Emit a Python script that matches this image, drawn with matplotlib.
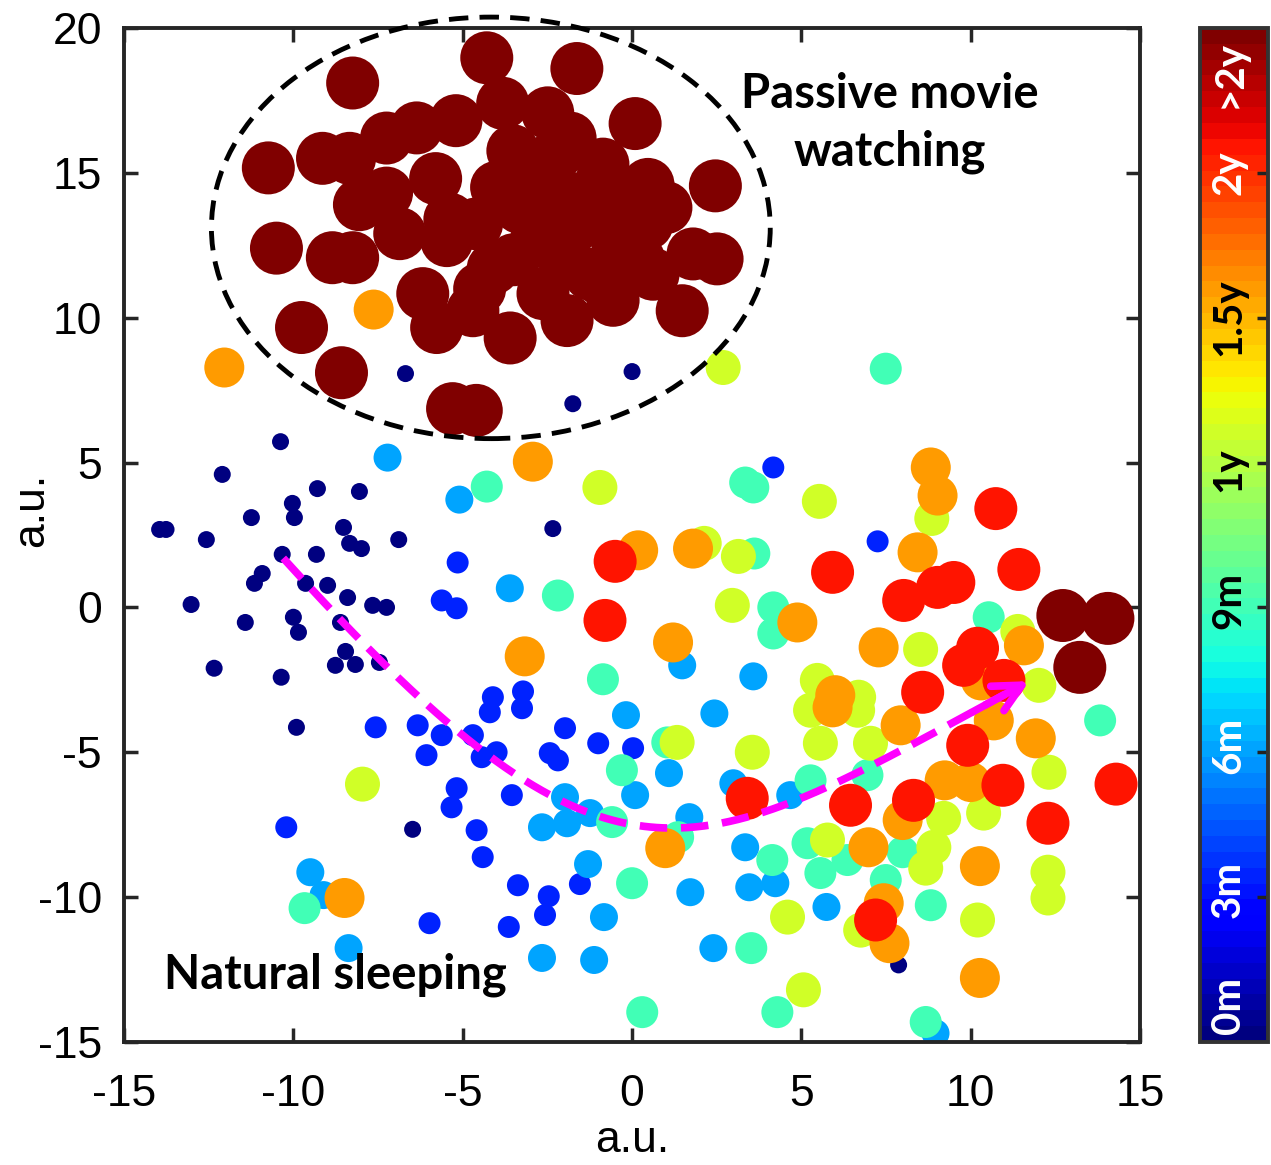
import numpy as np
import matplotlib
matplotlib.use('Agg')
import matplotlib.pyplot as plt
from matplotlib.patches import Ellipse
from matplotlib.colors import Normalize

plt.rcParams['font.family'] = ['Liberation Sans', 'DejaVu Sans']
plt.rcParams['axes.unicode_minus'] = False

# ---- data (a.u.), grouped by age class; age on colorbar scale 0 (0m) .. 7 (>2y)
navy_x = [-6.69, 0.0, -1.75, -10.38, -12.1, -9.29, -8.05, -10.03, -9.97, -11.24, -13.76, -13.95,
          -12.57, -8.52, -8.34, -7.99, -6.89, -10.33, -9.32, -10.92, -11.15, -9.64, -8.99, -13.02,
          -8.4, -7.66, -7.25, -10.0, -9.85, -11.42, -8.61, -8.46, -8.76, -8.17, -7.46, -12.34,
          -10.36, -2.34, -9.91, -6.48, 7.87]
navy_y = [8.07, 8.14, 7.03, 5.72, 4.59, 4.1, 4.0, 3.59, 3.1, 3.1, 2.69, 2.69,
          2.34, 2.76, 2.21, 2.03, 2.34, 1.83, 1.83, 1.17, 0.83, 0.83, 0.76, 0.1,
          0.34, 0.07, 0.0, -0.34, -0.86, -0.52, -0.52, -1.52, -2.0, -1.97, -1.9, -2.1,
          -2.41, 2.72, -4.14, -7.66, -12.34]

blue_x = [-5.15, -5.62, -5.18, -7.57, -6.33, -5.62, -6.07, -5.18, -5.33, -10.21, -5.98, 4.17,
          7.25, -3.22, -4.11, -4.2, -3.25, -4.7, -4.0, -4.44, -1.98, -2.43, -2.19, -1.0,
          0.03, -3.55, -4.59, -4.41, -1.54, -3.37, -2.46, -2.57, -3.64]
blue_y = [1.55, 0.24, -0.03, -4.14, -4.07, -4.41, -5.1, -6.24, -6.9, -7.59, -10.9, 4.83,
          2.28, -2.9, -3.1, -3.62, -3.48, -4.41, -5.0, -5.17, -4.17, -5.03, -5.28, -4.69,
          -4.86, -6.48, -7.69, -8.62, -9.55, -9.59, -9.97, -10.62, -11.03]

lblue_x = [-7.22, -5.1, -9.5, -9.11, -8.37, -3.61, 1.48, 3.58, -0.18, 2.43, 1.09, -1.98,
           0.09, 2.99, 4.67, -2.66, -1.92, -1.24, 1.69, 3.34, -1.3, 1.72, 3.46, 4.23,
           -0.83, 2.4, -2.66, -1.12, 5.74, 8.96]
lblue_y = [5.17, 3.72, -9.14, -9.93, -11.76, 0.66, -2.0, -2.38, -3.72, -3.66, -5.72, -6.55,
           -6.48, -6.07, -6.48, -7.59, -7.45, -7.1, -7.24, -8.28, -8.86, -9.83, -9.66, -9.52,
           -10.69, -11.76, -12.1, -12.17, -10.34, -14.7]

aqua_x = [7.49, -4.29, 3.34, 3.58, 3.61, -2.19, 4.17, 4.17, -0.86, -9.67, 10.53, 13.82,
          5.27, 6.95, 5.18, 6.36, 7.99, 5.56, 7.49, 8.82, 8.67, 1.04, -0.3, -0.59,
          1.36, 4.14, 0.0, 3.52, 0.3, 4.29]
aqua_y = [8.24, 4.17, 4.31, 4.14, 1.86, 0.41, 0.0, -0.9, -2.48, -10.38, -0.34, -3.9,
          -5.97, -5.79, -8.14, -8.72, -8.45, -9.17, -9.41, -10.28, -14.31, -4.66, -5.62, -7.41,
          -7.93, -8.72, -9.52, -11.76, -13.97, -13.97]

yellow_x = [2.69, -0.95, 2.13, 3.14, 2.96, -7.96, 5.53, 8.85, 11.39, 8.52, 12.01, 5.47,
            6.69, 12.31, 10.38, 9.2, 5.56, 7.04, 6.66, 5.27, 5.77, 8.91, 8.67, 12.28,
            12.28, 6.75, 10.2, 5.06, 4.59, 1.33, 3.55]
yellow_y = [8.28, 4.14, 2.21, 1.76, 0.07, -6.1, 3.66, 3.07, -0.83, -1.45, -2.69, -2.52,
            -3.1, -5.69, -7.1, -7.28, -4.69, -4.69, -3.55, -3.55, -8.03, -8.28, -9.0, -9.14,
            -10.03, -11.14, -10.79, -13.2, -10.69, -4.66, -5.0]

orange_x = [-7.63, -12.04, -2.93, 0.18, 1.8, 4.88, -3.17, 1.21, -8.49, 8.82, 9.02, 8.43,
            11.57, 7.28, 10.3, 6.0, 11.92, 9.23, 10.0, 7.99, 7.93, 5.92, 10.68, 6.98,
            10.27, 7.43, 7.6, 10.27, 0.98]
orange_y = [10.28, 8.28, 5.03, 1.97, 2.03, -0.52, -1.69, -1.21, -10.03, 4.83, 3.86, 1.9,
            -1.31, -1.38, -2.52, -3.03, -4.52, -5.97, -6.03, -7.34, -4.07, -3.45, -3.9, -8.28,
            -8.93, -10.21, -11.59, -12.79, -8.31]

red_x = [-0.5, -0.8, 10.74, 5.92, 11.42, 8.02, 9.02, 9.5, 10.2, 9.79, 10.98, 8.58,
         9.91, 14.29, 10.95, 8.31, 6.45, 12.28, 7.19, 3.4]
red_y = [1.59, -0.45, 3.41, 1.21, 1.31, 0.24, 0.69, 0.86, -1.41, -2.0, -2.52, -2.93,
         -4.76, -6.1, -6.14, -6.66, -6.83, -7.45, -10.79, -6.59]

dred_x = [-8.25, -10.74, -9.14, -8.34, -7.25, -6.36, -5.2, -8.05, -7.25, -6.86, -10.5, -8.85,
          -8.25, -6.18, -5.77, -9.76, -8.58, -5.47, -5.38, -4.29, -1.63, -3.82, -2.49, 0.09,
          -3.52, -2.22, -0.86, 0.47, 2.46, -4.59, -3.31, -2.13, -2.81, -1.75, -0.65, 0.44,
          -0.44, 1.8, 2.51, 0.62, -1.24, 1.48, -0.56, -1.92, -3.6, -4.7, -2.63, -4.1,
          -1.83, -5.3, -4.6, -4.0, -3.0, -1.0, -2.0, -3.5, -0.9, 0.2, -5.8, -4.5,
          1.0, -0.3, 12.72, 14.05, 13.22]
dred_y = [18.1, 15.17, 15.5, 15.5, 16.2, 16.55, 16.8, 13.9, 14.3, 12.9, 12.4, 12.07,
          12.07, 10.83, 9.66, 9.66, 8.1, 12.66, 13.4, 18.97, 18.6, 17.4, 17.07, 16.7,
          15.76, 15.66, 15.3, 14.6, 14.55, 13.24, 13.8, 14.28, 12.76, 13.1, 13.8, 13.24,
          12.66, 12.2, 12.03, 11.5, 11.5, 10.24, 10.6, 9.9, 9.3, 10.24, 10.83, 11.7,
          16.2, 6.86, 6.8, 14.5, 15.0, 14.5, 12.0, 12.0, 11.3, 12.0, 14.8, 11.0,
          13.8, 14.0, -0.28, -0.38, -2.07]

groups = [(navy_x, navy_y, 0.05), (blue_x, blue_y, 1.14), (lblue_x, lblue_y, 2.05),
          (aqua_x, aqua_y, 3.0), (yellow_x, yellow_y, 4.2), (orange_x, orange_y, 5.24),
          (red_x, red_y, 6.2), (dred_x, dred_y, 7.0)]

cbar_ticks = [1, 2, 3, 4, 5, 6]
cbar_labels = ['0m', '3m', '6m', '9m', '1y', '1.5y', '2y', '>2y']
cbar_label_pos = [0.25, 1.05, 2.05, 3.05, 3.95, 5.0, 6.0, 6.68]
cbar_label_col = ['white', 'white', 'white', 'black', 'black', 'black', 'white', 'white']

# arrow control points (Bezier)
arrow_pts = np.array([[-10.3, 1.7], [-0.3, -11.2], [1.8, -8.8], [11.8, -2.5]])

# ---- figure
fig = plt.figure(figsize=(12.71, 11.65), dpi=100)
ax = fig.add_axes([0.0976, 0.1056, 0.7994, 0.8704])
cmap = plt.get_cmap('jet', 64)
norm = Normalize(0, 7)

# marker diameter (px) per age, converted to points^2
age_ref = [0.05, 1.14, 2.05, 3.0, 4.2, 5.24, 6.2, 7.0]
diam_px = [17, 22, 28, 32, 35, 40, 43, 53]

xs, ys, cs = [], [], []
for gx, gy, age in groups:
    xs += gx
    ys += gy
    cs += [age] * len(gx)
cs = np.array(cs)
sizes = (np.interp(cs, age_ref, diam_px) * 0.72) ** 2
ax.scatter(xs, ys, s=sizes, c=cs, cmap=cmap, norm=norm, linewidths=0, zorder=2)

# dashed ellipse around movie-watching group
ell = Ellipse((-4.17, 13.1), 16.5, 14.55, fill=False, ls=(0, (4, 2.3)), lw=3.5,
              edgecolor='black', clip_on=False, zorder=3)
ax.add_patch(ell)

# magenta trajectory arrow
t = np.linspace(0, 1, 300)[:, None]
P = arrow_pts
curve = (1 - t) ** 3 * P[0] + 3 * (1 - t) ** 2 * t * P[1] + 3 * (1 - t) * t ** 2 * P[2] + t ** 3 * P[3]
ax.plot(curve[:-8, 0], curve[:-8, 1], color='#ff00ff', lw=5.5, ls=(0, (3.6, 1.8)), zorder=4)
ax.annotate('', xy=P[3], xytext=curve[-20],
            arrowprops=dict(arrowstyle='->', color='#ff00ff', lw=5.5, mutation_scale=50),
            zorder=5)

ax.text(7.6, 16.72, 'Passive movie\nwatching', ha='center', va='center', fontsize=34,
        fontweight='bold', family='Lato', linespacing=1.4)
ax.text(-13.82, -12.69, 'Natural sleeping', ha='left', va='center', fontsize=34,
        fontweight='bold', family='Lato')

ax.set_xlim(-15, 15)
ax.set_ylim(-15, 20)
ax.set_xticks(range(-15, 16, 5))
ax.set_yticks(range(-15, 21, 5))
ax.tick_params(direction='in', length=10, width=2.5, top=True, right=True,
               labelsize=32, color='#262626')
ax.tick_params(axis='x', pad=23)
ax.tick_params(axis='y', pad=16)
for sp in ax.spines.values():
    sp.set_linewidth(2.8)
    sp.set_color('#262626')
ax.set_xlabel('a.u.', fontsize=32, labelpad=4)
ax.set_ylabel('a.u.', fontsize=32)
ax.yaxis.set_label_coords(-0.071, 0.525)

# colorbar
cax = fig.add_axes([0.9442, 0.1056, 0.0535, 0.8704])
sm = plt.cm.ScalarMappable(norm=norm, cmap=cmap)
cb = fig.colorbar(sm, cax=cax, ticks=cbar_ticks)
cb.ax.tick_params(direction='in', length=8, width=2.5, right=True, left=False,
                  labelright=False, color='#222222')
cb.outline.set_linewidth(2.8)
cb.outline.set_edgecolor('#333333')
tr = cax.get_yaxis_transform()
for pos, lab, col in zip(cbar_label_pos, cbar_labels, cbar_label_col):
    cax.text(0.42, pos, lab, transform=tr, rotation=90, ha='center', va='center',
             color=col, fontsize=29, fontweight='bold', family='Lato')

fig.savefig('out.png', dpi=100)
